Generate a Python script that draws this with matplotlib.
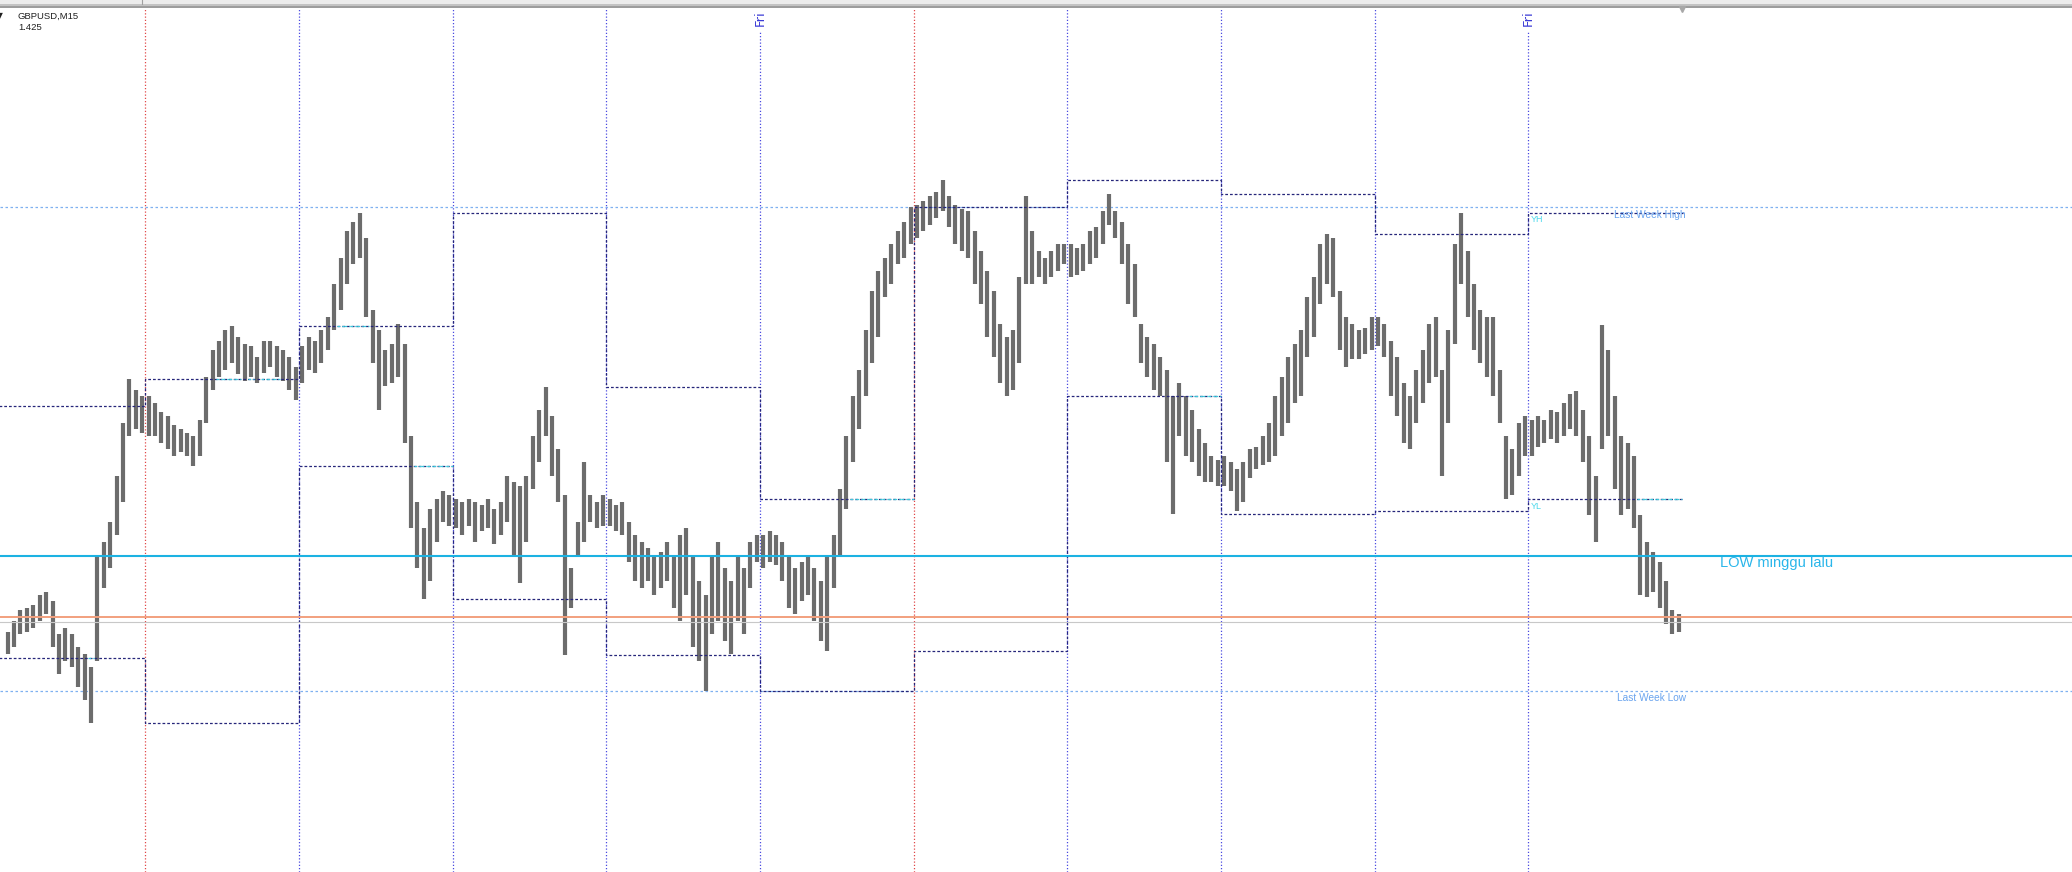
import numpy as np
import matplotlib
matplotlib.use("Agg")
import matplotlib.pyplot as plt
from matplotlib.lines import Line2D

symbol_label = "GBPUSD,M15"
indicator_label = "1.425"

# one entry per trading day: previous Fri (partial), then two full weeks
day_names = ["Fri", "Mon", "Tue", "Wed", "Thu", "Fri", "Mon", "Tue", "Wed", "Thu", "Fri"]

# hourly highs / lows, one row per day
bar_high = [
    [1.4222, 1.4230, 1.4238, 1.4240, 1.4242, 1.4250, 1.4252, 1.4245, 1.4220, 1.4225, 1.4220,
     1.4210, 1.4205, 1.4195, 1.4280, 1.4290, 1.4305, 1.4340, 1.4380, 1.4413, 1.4405, 1.4400],
    [1.4400, 1.4395, 1.4388, 1.4385, 1.4378, 1.4375, 1.4372, 1.4370, 1.4382, 1.4415, 1.4435, 1.4442,
     1.4450, 1.4453, 1.4445, 1.4440, 1.4438, 1.4430, 1.4442, 1.4442, 1.4438, 1.4435, 1.4430, 1.4422],
    [1.4438, 1.4445, 1.4442, 1.4450, 1.4460, 1.4485, 1.4505, 1.4525, 1.4532, 1.4539, 1.4520, 1.4465,
     1.4450, 1.4435, 1.4440, 1.4455, 1.4440, 1.4370, 1.4320, 1.4300, 1.4315, 1.4322, 1.4328, 1.4325],
    [1.4322, 1.4320, 1.4322, 1.4320, 1.4318, 1.4322, 1.4315, 1.4320, 1.4340, 1.4335, 1.4332, 1.4340,
     1.4370, 1.4390, 1.4407, 1.4385, 1.4360, 1.4325, 1.4270, 1.4305, 1.4350, 1.4325, 1.4320, 1.4325],
    [1.4322, 1.4318, 1.4320, 1.4305, 1.4295, 1.4290, 1.4285, 1.4280, 1.4282, 1.4290, 1.4280, 1.4295,
     1.4300, 1.4280, 1.4260, 1.4250, 1.4280, 1.4290, 1.4270, 1.4260, 1.4280, 1.4270, 1.4290, 1.4295],
    [1.4295, 1.4298, 1.4295, 1.4290, 1.4280, 1.4270, 1.4275, 1.4280, 1.4270, 1.4260, 1.4280, 1.4295,
     1.4330, 1.4370, 1.4400, 1.4420, 1.4450, 1.4480, 1.4495, 1.4505, 1.4515, 1.4525, 1.4532, 1.4543],
    [1.4545, 1.4548, 1.4552, 1.4555, 1.4564, 1.4552, 1.4545, 1.4542, 1.4540, 1.4525, 1.4510, 1.4495,
     1.4480, 1.4455, 1.4445, 1.4450, 1.4490, 1.4552, 1.4525, 1.4510, 1.4505, 1.4510, 1.4515, 1.4515],
    [1.4515, 1.4512, 1.4515, 1.4525, 1.4528, 1.4540, 1.4553, 1.4540, 1.4532, 1.4515, 1.4500, 1.4455,
     1.4445, 1.4440, 1.4430, 1.4420, 1.4400, 1.4410, 1.4400, 1.4390, 1.4375, 1.4365, 1.4355, 1.4352],
    [1.4355, 1.4350, 1.4345, 1.4350, 1.4360, 1.4362, 1.4370, 1.4380, 1.4400, 1.4415, 1.4430, 1.4440,
     1.4450, 1.4475, 1.4490, 1.4515, 1.4523, 1.4520, 1.4480, 1.4460, 1.4455, 1.4450, 1.4452, 1.4460],
    [1.4460, 1.4455, 1.4442, 1.4430, 1.4410, 1.4400, 1.4420, 1.4435, 1.4455, 1.4460, 1.4420, 1.4450,
     1.4515, 1.4539, 1.4510, 1.4485, 1.4465, 1.4460, 1.4460, 1.4420, 1.4370, 1.4360, 1.4380, 1.4385],
    [1.4382, 1.4385, 1.4382, 1.4390, 1.4388, 1.4395, 1.4402, 1.4404, 1.4390, 1.4370, 1.4340, 1.4454,
     1.4435, 1.4400, 1.4370, 1.4365, 1.4355, 1.4310, 1.4290, 1.4282, 1.4275, 1.4260, 1.4238, 1.4235],
]
bar_low = [
    [1.4205, 1.4210, 1.4220, 1.4222, 1.4225, 1.4230, 1.4235, 1.4210, 1.4190, 1.4200, 1.4195,
     1.4180, 1.4170, 1.4153, 1.4200, 1.4255, 1.4270, 1.4295, 1.4320, 1.4370, 1.4375, 1.4372],
    [1.4370, 1.4370, 1.4365, 1.4360, 1.4355, 1.4358, 1.4355, 1.4347, 1.4355, 1.4380, 1.4405, 1.4415,
     1.4420, 1.4425, 1.4417, 1.4412, 1.4415, 1.4410, 1.4418, 1.4422, 1.4415, 1.4412, 1.4405, 1.4397],
    [1.4410, 1.4420, 1.4418, 1.4425, 1.4435, 1.4450, 1.4465, 1.4485, 1.4500, 1.4505, 1.4460, 1.4425,
     1.4390, 1.4408, 1.4410, 1.4415, 1.4365, 1.4300, 1.4270, 1.4247, 1.4260, 1.4290, 1.4305, 1.4302],
    [1.4300, 1.4295, 1.4302, 1.4290, 1.4298, 1.4300, 1.4288, 1.4295, 1.4305, 1.4280, 1.4259, 1.4290,
     1.4330, 1.4350, 1.4370, 1.4340, 1.4320, 1.4204, 1.4240, 1.4280, 1.4290, 1.4305, 1.4300, 1.4302],
    [1.4302, 1.4298, 1.4295, 1.4275, 1.4260, 1.4255, 1.4260, 1.4250, 1.4255, 1.4260, 1.4240, 1.4230,
     1.4250, 1.4210, 1.4200, 1.4177, 1.4220, 1.4230, 1.4215, 1.4205, 1.4230, 1.4220, 1.4255, 1.4275],
    [1.4270, 1.4275, 1.4272, 1.4260, 1.4240, 1.4235, 1.4245, 1.4250, 1.4230, 1.4215, 1.4207, 1.4255,
     1.4280, 1.4315, 1.4350, 1.4375, 1.4400, 1.4425, 1.4445, 1.4475, 1.4485, 1.4500, 1.4505, 1.4515],
    [1.4520, 1.4525, 1.4530, 1.4535, 1.4540, 1.4528, 1.4515, 1.4510, 1.4505, 1.4485, 1.4470, 1.4445,
     1.4430, 1.4410, 1.4400, 1.4405, 1.4425, 1.4485, 1.4485, 1.4490, 1.4485, 1.4490, 1.4495, 1.4500],
    [1.4490, 1.4492, 1.4495, 1.4500, 1.4505, 1.4515, 1.4530, 1.4520, 1.4500, 1.4470, 1.4460, 1.4425,
     1.4415, 1.4405, 1.4400, 1.4350, 1.4311, 1.4370, 1.4355, 1.4350, 1.4340, 1.4335, 1.4335, 1.4332],
    [1.4332, 1.4328, 1.4313, 1.4320, 1.4338, 1.4345, 1.4348, 1.4350, 1.4355, 1.4370, 1.4380, 1.4395,
     1.4400, 1.4430, 1.4445, 1.4470, 1.4485, 1.4475, 1.4435, 1.4422, 1.4428, 1.4428, 1.4432, 1.4435],
    [1.4438, 1.4430, 1.4400, 1.4385, 1.4365, 1.4360, 1.4380, 1.4395, 1.4410, 1.4415, 1.4340, 1.4380,
     1.4440, 1.4485, 1.4460, 1.4435, 1.4425, 1.4415, 1.4400, 1.4380, 1.4322, 1.4325, 1.4340, 1.4355],
    [1.4355, 1.4362, 1.4365, 1.4368, 1.4365, 1.4370, 1.4375, 1.4370, 1.4350, 1.4310, 1.4290, 1.4360,
     1.4370, 1.4330, 1.4310, 1.4315, 1.4300, 1.4250, 1.4248, 1.4252, 1.4240, 1.4228, 1.4220, 1.4222],
]

# previous day high / low box drawn over each day
prev_day_high = [1.4393, 1.4413, 1.4453, 1.4539, 1.4407, 1.4322, 1.4543, 1.4564, 1.4553, 1.4523, 1.4539]
prev_day_low = [1.4202, 1.4153, 1.4347, 1.4247, 1.4204, 1.4177, 1.4207, 1.4400, 1.4311, 1.4313, 1.4322]

last_week_high = 1.4543
last_week_low = 1.4177
low_minggu_lalu = 1.4279
orange_level = 1.4233
bid_level = 1.4229

W, H = 2072, 872
fig = plt.figure(figsize=(W / 100, H / 100), dpi=100)
ax = fig.add_axes([0, 0, 1, 1])
ax.set_xlim(-22.7, 300.9)
ax.set_ylim(1.404, 1.470)
ax.axis("off")

# time axis in hours, Monday of week 1 = 0
day_start = [-len(bar_high[0])] + [24 * (d - 1) for d in range(1, len(day_names))]
t_end = day_start[-1] + len(bar_high[-1])

# day separators
top_frac = 1 - 8 / H
for d in range(1, len(day_names)):
    x = 24 * (d - 1)
    if day_names[d] == "Mon":
        col, ymax = "#e04848", top_frac
    elif day_names[d] == "Fri":
        col, ymax = "#4a4ae0", 1 - 32 / H
        ax.text(x, 1 - 10 / H, "Fri", transform=ax.get_xaxis_transform(), rotation=90,
                ha="center", va="top", fontsize=9.5, color="#3a3ad6", family="DejaVu Sans")
    else:
        col, ymax = "#4a4ae0", top_frac
    ax.axvline(x, ymin=0, ymax=ymax, color=col, lw=0.9, ls=(0, (1, 1.6)), zorder=1)

# previous day boxes
edges = [-24] + [24 * (d - 1) for d in range(1, len(day_names))] + [t_end + 0.2]
box_style = dict(color="#26267a", lw=0.9, ls=(0, (2.2, 1.6)), zorder=3)
ax.stairs(prev_day_high, edges, baseline=None, **box_style)
ax.stairs(prev_day_low, edges, baseline=None, **box_style)

# broken part of the box lines
for d in range(len(day_names)):
    for k, (h, l) in enumerate(zip(bar_high[d], bar_low[d])):
        t = day_start[d] + k
        if l > prev_day_high[d]:
            ax.hlines(prev_day_high[d], t, t + 1, color="#3cc8dc", lw=0.9, ls=(0, (2.2, 1.6)), zorder=3.5)
        if h < prev_day_low[d]:
            ax.hlines(prev_day_low[d], t, t + 1, color="#3cc8dc", lw=0.9, ls=(0, (2.2, 1.6)), zorder=3.5)

# weekly levels and price lines
ax.axhline(last_week_high, color="#7fb0f0", lw=0.9, ls=(0, (2, 2)), zorder=2)
ax.axhline(last_week_low, color="#7fb0f0", lw=0.9, ls=(0, (2, 2)), zorder=2)
ax.axhline(low_minggu_lalu, color="#1cb2e2", lw=1.5, zorder=4)
ax.axhline(orange_level, color="#f2a07e", lw=1.4, zorder=4)
ax.axhline(bid_level, color="#c8c8c8", lw=0.8, zorder=4)

# hourly bars
for d in range(len(day_names)):
    t = day_start[d] + np.arange(len(bar_high[d])) + 0.5
    ax.vlines(t, bar_low[d], bar_high[d], color="#6c6c6c", lw=3.0, zorder=2.5)

# labels
lab = dict(family="Liberation Sans", zorder=5)
ax.annotate("Last Week High", (t_end + 0.6, last_week_high), xytext=(0, -1.5), textcoords="offset points",
            ha="right", va="top", fontsize=7.3, color="#6aa4ee", **lab)
ax.annotate("Last Week Low", (t_end + 0.6, last_week_low), xytext=(0, -1.5), textcoords="offset points",
            ha="right", va="top", fontsize=7.3, color="#6aa4ee", **lab)
ax.annotate("YH", (day_start[-1], prev_day_high[-1]), xytext=(2, -1.5), textcoords="offset points",
            ha="left", va="top", fontsize=6.5, color="#4ad8ec", **lab)
ax.annotate("YL", (day_start[-1], prev_day_low[-1]), xytext=(2, -1.5), textcoords="offset points",
            ha="left", va="top", fontsize=6.5, color="#4ad8ec", **lab)
ax.annotate("LOW minggu lalu", (246.0, low_minggu_lalu), xytext=(0, -4.8), textcoords="offset points",
            ha="left", va="center", fontsize=10.5, color="#2ab6ea", **lab)

# window chrome at the top
fig.add_artist(plt.Rectangle((0, 1 - 4 / H), 1, 4 / H, transform=fig.transFigure,
                             facecolor="#ececec", edgecolor="none"))
fig.add_artist(Line2D([0, 1], [1 - 5 / H] * 2, transform=fig.transFigure, color="#b8b8b8", lw=1.2))
fig.add_artist(Line2D([0, 1], [1 - 7 / H] * 2, transform=fig.transFigure, color="#8a8a8a", lw=1.2))
fig.add_artist(Line2D([142 / W] * 2, [1, 1 - 4 / H], transform=fig.transFigure, color="#a0a0a0", lw=0.8))
fig.add_artist(Line2D([1682 / W], [1 - 9 / H], transform=fig.transFigure, marker="v", ms=4,
                      color="#a8a8a8", lw=0))

fig.text(-3 / W, 1 - 16 / H, "\u25bc", fontsize=5.5, va="center", ha="left", color="#202020")
fig.text(17 / W, 1 - 16 / H, symbol_label, fontsize=6.8, va="center", ha="left", color="#202020",
         family="Liberation Sans")
fig.text(18 / W, 1 - 27 / H, indicator_label, fontsize=6.8, va="center", ha="left", color="#202020",
         family="Liberation Sans")

fig.savefig("out.png", dpi=100, facecolor="white")
